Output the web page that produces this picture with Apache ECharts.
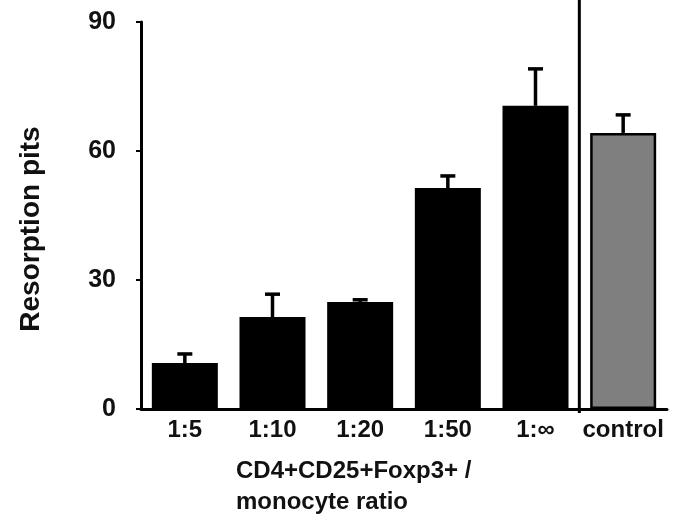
<!DOCTYPE html>
<html>
<head>
<meta charset="utf-8">
<script src="https://cdn.jsdelivr.net/npm/echarts@6/dist/echarts.min.js"></script>
<style>
  html, body { margin: 0; padding: 0; background: #fff; }
  #main { width: 674px; height: 520px; }
</style>
</head>
<body>
<div id="main"></div>
<script>
// categories along the x axis
var categories = ['1:5', '1:10', '1:20', '1:50', '1:∞', 'control'];
// mean resorption pits per group
var means = [10.7, 21.4, 24.9, 51.4, 70.5, 64.2];
// upper error (SD / SEM) per group
var errors = [2.1, 5.3, 0.5, 2.8, 8.6, 4.2];
// y axis tick values
var yTicks = [0, 30, 60, 90];

var font = '"Liberation Sans", Arial, sans-serif';

var chart = echarts.init(document.getElementById('main'));

var barData = means.map(function (v, i) {
  if (categories[i] === 'control') {
    return { value: v, itemStyle: { color: '#7f7f7f', borderColor: '#000', borderWidth: 2.5 } };
  }
  return v;
});

var errData = means.map(function (v, i) { return [i, v, v + errors[i]]; });

chart.setOption({
  animation: false,
  grid: { left: 141, right: 7, top: 22, bottom: 111 },
  title: {
    text: 'CD4+CD25+Foxp3+ /\nmonocyte ratio',
    left: 236,
    top: 456,
    padding: 0,
    textStyle: { fontFamily: font, fontWeight: 'bold', fontSize: 24, lineHeight: 31, color: '#111' }
  },
  xAxis: {
    type: 'category',
    data: categories,
    axisLine: { lineStyle: { color: '#000', width: 3 } },
    axisTick: { show: false },
    axisLabel: { interval: 0, fontFamily: font, fontWeight: 'bold', fontSize: 24, color: '#111', margin: 9 }
  },
  yAxis: {
    type: 'value',
    min: yTicks[0],
    max: yTicks[yTicks.length - 1],
    interval: 30,
    axisLine: { show: true, lineStyle: { color: '#000', width: 3 } },
    axisTick: { show: true, length: 5, lineStyle: { color: '#000', width: 2 } },
    splitLine: { show: false },
    axisLabel: { fontFamily: font, fontWeight: 'bold', fontSize: 25, color: '#111', margin: 25 }
  },
  graphic: [{
    type: 'text',
    x: 31,
    y: 229,
    rotation: Math.PI / 2,
    style: {
      text: 'Resorption pits',
      fontFamily: font,
      fontWeight: 'bold',
      fontSize: 28,
      fill: '#111',
      align: 'center',
      verticalAlign: 'middle'
    }
  }],
  series: [
    {
      type: 'bar',
      data: barData,
      barWidth: 66,
      itemStyle: { color: '#000' }
    },
    {
      type: 'custom',
      data: errData,
      z: 3,
      renderItem: function (params, api) {
        var base = api.coord([api.value(0), api.value(1)]);
        var top = api.coord([api.value(0), api.value(2)]);
        var half = 7.5;
        var style = { stroke: '#000', lineWidth: 3.5 };
        return {
          type: 'group',
          children: [
            { type: 'line', shape: { x1: base[0], y1: base[1], x2: top[0], y2: top[1] }, style: style },
            { type: 'line', shape: { x1: top[0] - half, y1: top[1], x2: top[0] + half, y2: top[1] }, style: style }
          ]
        };
      }
    }
  ]
});

// vertical separator between the ratio groups and the control
var xa = chart.convertToPixel({ xAxisIndex: 0 }, 4);
var xb = chart.convertToPixel({ xAxisIndex: 0 }, 5);
var yBottom = chart.convertToPixel({ yAxisIndex: 0 }, 0);
chart.setOption({
  graphic: [{}, {
    type: 'line',
    shape: { x1: (xa + xb) / 2, y1: 0, x2: (xa + xb) / 2, y2: yBottom + 4 },
    style: { stroke: '#000', lineWidth: 3 },
    z: 10
  }]
});
</script>
</body>
</html>
